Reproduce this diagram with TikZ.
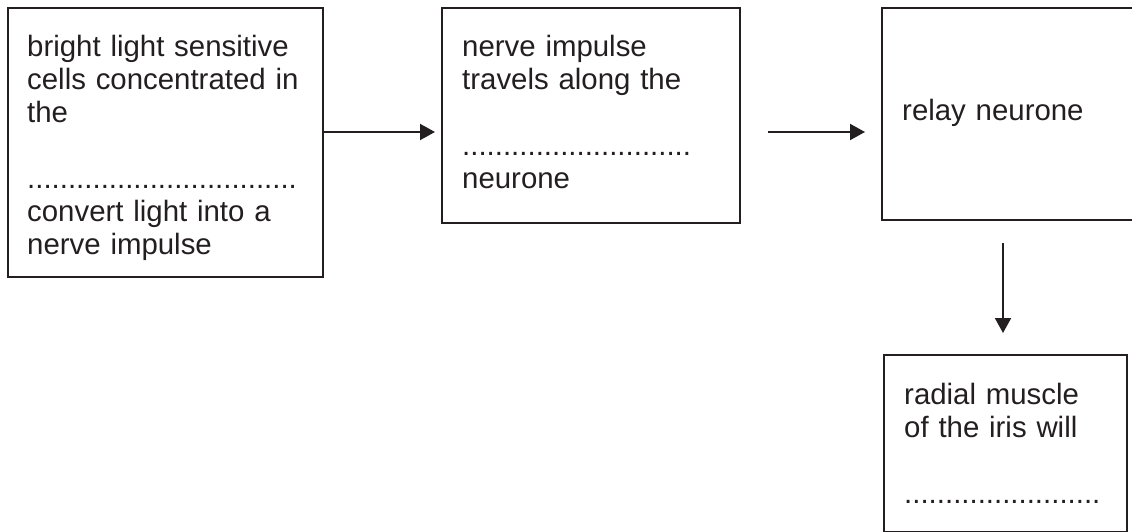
\documentclass[tikz,border=0pt]{standalone}
\usepackage{fontspec}
\setmainfont{Liberation Sans}
\usetikzlibrary{arrows.meta,calc}
\definecolor{ink}{HTML}{231F20}
\begin{document}
\begin{tikzpicture}[x=1pt,y=-1pt,
  box/.style={draw=ink, line width=2pt, inner sep=0pt, anchor=north west},
  txt/.style={anchor=base west, inner sep=0pt, align=left, text width=330pt,
    font=\fontsize{29.4}{33}\selectfont, text=ink},
  arr/.style={draw=ink, line width=2pt, -{Triangle[length=15pt,width=16pt]}}]
\useasboundingbox (0,0) rectangle (1132,532);
% boxes
\node[box, minimum width=315pt, minimum height=269pt] (b1) at (7,7) {};
\node[box, minimum width=298pt, minimum height=215pt] (b2) at (441,7) {};
\node[box, minimum width=260pt, minimum height=212pt] (b3) at (881,7) {};
\node[box, minimum width=243pt, minimum height=177pt] (b4) at (883,354) {};
% texts
\node[txt] (t1) at ($(b1.north west)+(20,50)$) {bright light sensitive\\cells concentrated in\\the\\[33pt].................................\\convert light into a\\nerve impulse};
\node[txt] (t2) at ($(b2.north west)+(21,50)$) {nerve impulse\\travels along the\\[33pt]............................\\neurone};
\node[txt] (t3) at ($(b3.north west)+(21,114)$) {relay neurone};
\node[txt] (t4) at ($(b4.north west)+(21,50)$) {radial muscle\\of the iris will\\[33pt]........................};
% connectors
\coordinate (a1s) at ($(b1.north east)+(0,125)$);
\coordinate (a1e) at ($(b2.north west)+(-6,125)$);
\coordinate (a2s) at ($(b2.north east)+(27,125)$);
\coordinate (a2e) at ($(b3.north west)+(-16,125)$);
\coordinate (a3s) at (1003,243);
\coordinate (a3e) at ($(b4.north west)+(120,-21)$);
\draw[arr] (a1s) -- (a1e);
\draw[arr] (a2s) -- (a2e);
\draw[arr] (a3s) -- (a3e);
\end{tikzpicture}
\end{document}
